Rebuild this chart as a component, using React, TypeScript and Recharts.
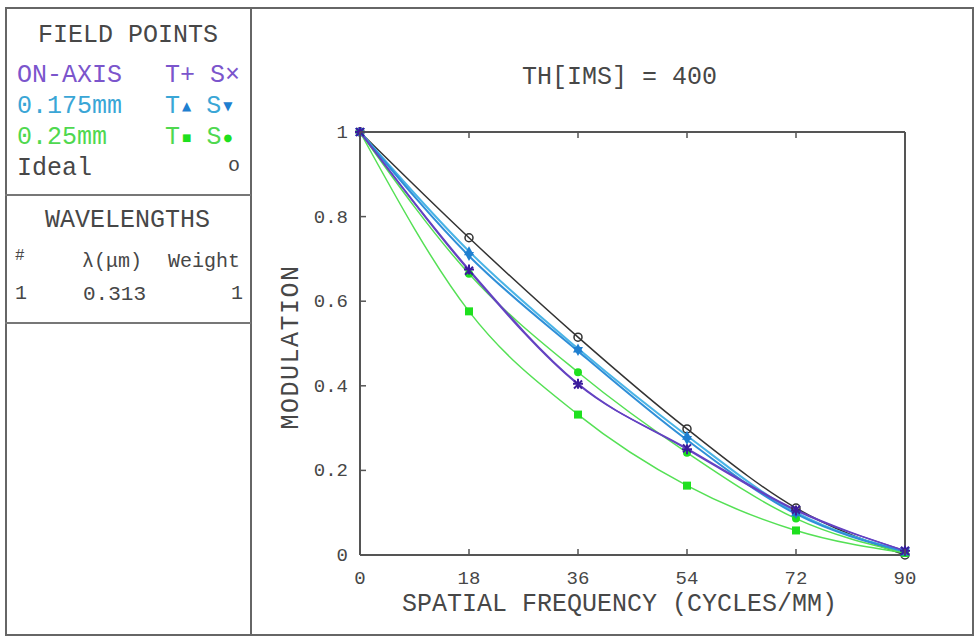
import React from "react";
import { LineChart, Line, XAxis, YAxis } from "recharts";

// spatial frequency samples (cycles/mm)
const freq = [0, 18, 36, 54, 72, 90];
const xTicks = [0, 18, 36, 54, 72, 90];
const yTicks = [0, 0.2, 0.4, 0.6, 0.8, 1];

// modulation values
const ideal = [1, 0.75, 0.515, 0.298, 0.111, 0];
const onAxisT = [1, 0.675, 0.405, 0.25, 0.105, 0.01];
const onAxisS = [1, 0.672, 0.403, 0.252, 0.107, 0.01];
const midT = [1, 0.718, 0.488, 0.282, 0.101, 0.008];
const midS = [1, 0.707, 0.482, 0.272, 0.097, 0.008];
const edgeT = [1, 0.576, 0.332, 0.164, 0.058, 0.005];
const edgeS = [1, 0.665, 0.432, 0.242, 0.086, 0.005];

const data = freq.map((f, i) => ({
  f,
  ideal: ideal[i],
  onAxisT: onAxisT[i],
  onAxisS: onAxisS[i],
  midT: midT[i],
  midS: midS[i],
  edgeT: edgeT[i],
  edgeS: edgeS[i],
}));

const FONT = "'Liberation Mono', 'DejaVu Sans Mono', monospace";
const TEXT = "#474747";
const AXIS = "#555";

const PURPLE_TXT = "#7b55cc";
const PURPLE_LINE = "#6442c2";
const PURPLE_MARK = "#3c1c9c";
const CYAN_TXT = "#3aa6d6";
const MID_T_LINE = "#4ab4e6";
const MID_S_LINE = "#2f8fd8";
const MID_MARK = "#1f7fd0";
const GREEN_TXT = "#4fd84f";
const GREEN_LINE = "#55e055";
const GREEN_MARK = "#1ee01e";

type DotProps = { cx?: number; cy?: number; index?: number };

const openCircle = ({ cx = 0, cy = 0, index }: DotProps) => (
  <circle key={index} cx={cx} cy={cy} r={4} fill="none" stroke="#333" strokeWidth={1.5} />
);
const plus = ({ cx = 0, cy = 0, index }: DotProps) => (
  <path key={index} d={`M${cx - 5},${cy}h10M${cx},${cy - 5}v10`} stroke={PURPLE_MARK} strokeWidth={2} />
);
const cross = ({ cx = 0, cy = 0, index }: DotProps) => (
  <path key={index} d={`M${cx - 4},${cy - 4}l8,8M${cx + 4},${cy - 4}l-8,8`} stroke={PURPLE_MARK} strokeWidth={2} />
);
const triUp = ({ cx = 0, cy = 0, index }: DotProps) => (
  <polygon key={index} points={`${cx},${cy - 5} ${cx + 5},${cy + 4} ${cx - 5},${cy + 4}`} fill={MID_MARK} />
);
const triDown = ({ cx = 0, cy = 0, index }: DotProps) => (
  <polygon key={index} points={`${cx},${cy + 5} ${cx + 5},${cy - 4} ${cx - 5},${cy - 4}`} fill={MID_MARK} />
);
const square = ({ cx = 0, cy = 0, index }: DotProps) => (
  <rect key={index} x={cx - 4} y={cy - 4} width={8} height={8} fill={GREEN_MARK} />
);
const disc = ({ cx = 0, cy = 0, index }: DotProps) => (
  <circle key={index} cx={cx} cy={cy} r={4} fill={GREEN_MARK} />
);

const BottomTick = ({ x, y, payload }: any) => (
  <g>
    <line x1={x} y1={y} x2={x} y2={y - 6} stroke={AXIS} strokeWidth={1.5} />
    <text x={x} y={y + 29} textAnchor="middle" fontSize={19} fill={TEXT} fontFamily={FONT}>
      {payload.value}
    </text>
  </g>
);
const TopTick = ({ x, y }: any) => (
  <line x1={x} y1={y} x2={x} y2={y + 6} stroke={AXIS} strokeWidth={1.5} />
);
const LeftTick = ({ x, y, payload }: any) => (
  <g>
    <line x1={x} y1={y} x2={x + 6} y2={y} stroke={AXIS} strokeWidth={1.5} />
    <text x={x - 12} y={y + 6} textAnchor="end" fontSize={19} fill={TEXT} fontFamily={FONT}>
      {payload.value}
    </text>
  </g>
);
const RightTick = ({ x, y }: any) => (
  <line x1={x} y1={y} x2={x - 6} y2={y} stroke={AXIS} strokeWidth={1.5} />
);

const abs = (left: number, top: number, extra: React.CSSProperties = {}): React.CSSProperties => ({
  position: "absolute",
  left,
  top,
  whiteSpace: "pre",
  lineHeight: 1,
  ...extra,
});

const symStyle = (color: string, size: number): React.CSSProperties => ({
  color,
  fontSize: size,
  fontFamily: "'DejaVu Sans'",
  display: "inline-block",
  transform: "translateY(-3px)",
  marginLeft: 2,
});

function Sym({ t, s, color, txt, size }: { t: string; s: string; color: string; txt: string; size: number }) {
  return (
    <span style={{ color: txt }}>
      T<span style={symStyle(color, size)}>{t}</span> S<span style={symStyle(color, size)}>{s}</span>
    </span>
  );
}

export default function App() {
  return (
    <div
      style={{
        position: "absolute",
        left: 0,
        top: 0,
        width: 978,
        height: 640,
        background: "#fff",
        fontFamily: FONT,
        color: TEXT,
        overflow: "hidden",
      }}
    >
      {/* outer frame and panel dividers */}
      <div style={abs(5, 7, { width: 969, height: 629, border: "2px solid #666", boxSizing: "border-box" })} />
      <div style={abs(250, 7, { width: 2, height: 629, background: "#666" })} />
      <div style={abs(5, 194, { width: 246, height: 2, background: "#777" })} />
      <div style={abs(5, 322, { width: 246, height: 2, background: "#777" })} />

      {/* field points panel */}
      <div style={abs(38, 23, { fontSize: 25 })}>FIELD POINTS</div>
      <div style={abs(17, 63, { fontSize: 25, color: PURPLE_TXT })}>ON-AXIS</div>
      <div style={abs(165, 63, { fontSize: 25 })}>
        <span style={{ color: PURPLE_TXT }}>T+ S×</span>
      </div>
      <div style={abs(17, 94, { fontSize: 25, color: CYAN_TXT })}>0.175mm</div>
      <div style={abs(165, 94, { fontSize: 25 })}>
        <Sym t="▲" s="▼" color={MID_MARK} txt={CYAN_TXT} size={12} />
      </div>
      <div style={abs(17, 125, { fontSize: 25, color: GREEN_TXT })}>0.25mm</div>
      <div style={abs(165, 125, { fontSize: 25 })}>
        <Sym t="■" s="●" color={GREEN_MARK} txt={GREEN_TXT} size={10} />
      </div>
      <div style={abs(17, 156, { fontSize: 25 })}>Ideal</div>
      <div style={abs(228, 156, { fontSize: 20 })}>o</div>

      {/* wavelengths panel */}
      <div style={abs(45, 208, { fontSize: 25 })}>WAVELENGTHS</div>
      <div style={abs(15, 248, { fontSize: 16 })}>#</div>
      <div style={abs(82, 252, { fontSize: 20 })}>λ(μm)</div>
      <div style={abs(168, 252, { fontSize: 20 })}>Weight</div>
      <div style={abs(15, 284, { fontSize: 20 })}>1</div>
      <div style={abs(83, 284, { fontSize: 21 })}>0.313</div>
      <div style={abs(231, 284, { fontSize: 20 })}>1</div>

      {/* titles */}
      <div style={abs(522, 65, { fontSize: 25 })}>TH[IMS] = 400</div>
      <div style={abs(402, 592, { fontSize: 25 })}>SPATIAL FREQUENCY (CYCLES/MM)</div>
      <div
        style={abs(291, 347, {
          fontSize: 25,
          transform: "translate(-50%, -50%) rotate(-90deg)",
          letterSpacing: 1.5,
        })}
      >
        MODULATION
      </div>

      <div style={{ position: "absolute", left: 0, top: 0 }}>
        <LineChart
          width={978}
          height={640}
          data={data}
          margin={{ top: 122, right: 63, left: 320, bottom: 55 }}
        >
          <XAxis
            dataKey="f"
            type="number"
            domain={[0, 90]}
            ticks={xTicks}
            tickSize={0}
            tickMargin={0}
            tickLine={false}
            tick={<BottomTick />}
            height={30}
            stroke={AXIS}
            strokeWidth={2}
            interval={0}
          />
          <XAxis
            xAxisId="top"
            orientation="top"
            dataKey="f"
            type="number"
            domain={[0, 90]}
            ticks={xTicks}
            tickSize={0}
            tickMargin={0}
            tickLine={false}
            tick={<TopTick />}
            height={10}
            stroke={AXIS}
            strokeWidth={2}
            interval={0}
          />
          <YAxis
            type="number"
            domain={[0, 1]}
            ticks={yTicks}
            tickSize={0}
            tickMargin={0}
            tickLine={false}
            tick={<LeftTick />}
            width={40}
            stroke={AXIS}
            strokeWidth={2}
            interval={0}
          />
          <YAxis
            yAxisId="right"
            orientation="right"
            type="number"
            domain={[0, 1]}
            ticks={yTicks}
            tickSize={0}
            tickMargin={0}
            tickLine={false}
            tick={<RightTick />}
            width={10}
            stroke={AXIS}
            strokeWidth={2}
            interval={0}
          />
          <Line dataKey="ideal" type="monotone" stroke="#333" strokeWidth={1.5} dot={openCircle} isAnimationActive={false} />
          <Line dataKey="edgeT" type="monotone" stroke={GREEN_LINE} strokeWidth={1.5} dot={square} isAnimationActive={false} />
          <Line dataKey="edgeS" type="monotone" stroke={GREEN_LINE} strokeWidth={1.5} dot={disc} isAnimationActive={false} />
          <Line dataKey="midT" type="monotone" stroke={MID_T_LINE} strokeWidth={2} dot={triUp} isAnimationActive={false} />
          <Line dataKey="midS" type="monotone" stroke={MID_S_LINE} strokeWidth={2} dot={triDown} isAnimationActive={false} />
          <Line dataKey="onAxisT" type="monotone" stroke={PURPLE_LINE} strokeWidth={1.5} dot={plus} isAnimationActive={false} />
          <Line dataKey="onAxisS" type="monotone" stroke={PURPLE_LINE} strokeWidth={1.5} dot={cross} isAnimationActive={false} />
        </LineChart>
      </div>
    </div>
  );
}
